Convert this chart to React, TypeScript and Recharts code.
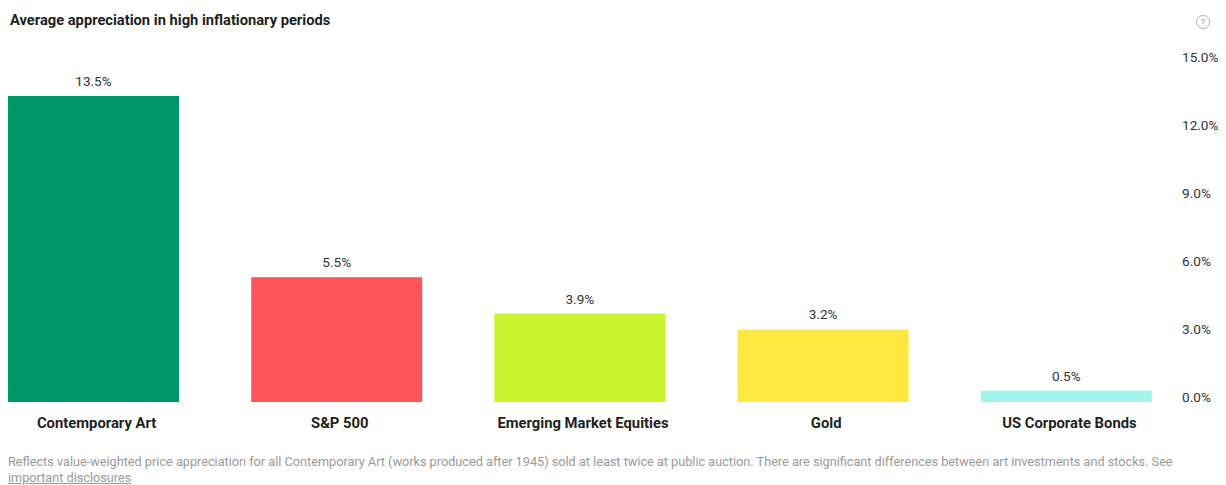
import React from 'react';
import { BarChart, Bar, XAxis, YAxis, Cell, LabelList } from 'recharts';

const categories = ['Contemporary Art', 'S&P 500', 'Emerging Market Equities', 'Gold', 'US Corporate Bonds'];
const values = [13.5, 5.5, 3.9, 3.2, 0.5];
const colors = ['#00966a', '#ff535a', '#c9f22f', '#ffe940', '#9ff5ec'];
const yTicks = [0, 3, 6, 9, 12, 15];

const data = categories.map((name, i) => ({ name, value: values[i] }));

const FONT = 'Roboto, "Noto Sans", sans-serif';

const XTick = (props: any) => {
  const { x, y, payload } = props;
  return (
    <text x={x + 3} y={y + 18} textAnchor="middle" fontFamily={FONT} fontSize={14.8} fontWeight={700} fill="#1f1f1f">
      {payload.value}
    </text>
  );
};

const YTick = (props: any) => {
  const { x, y, payload } = props;
  return (
    <text x={x + 14} y={y} textAnchor="start" fontFamily={FONT} fontSize={13.6} fill="#333">
      {payload.value.toFixed(1)}%
    </text>
  );
};

const ValueLabel = (props: any) => {
  const { x, y, width, value } = props;
  return (
    <text x={x + width / 2} y={y - 10} textAnchor="middle" fontFamily={FONT} fontSize={13.6} fill="#333">
      {Number(value).toFixed(1)}%
    </text>
  );
};

export default function App() {
  return (
    <div
      style={{
        position: 'relative',
        width: 1226,
        height: 485,
        margin: '-8px 0 0 -8px',
        background: '#fff',
        fontFamily: FONT,
        overflow: 'hidden',
      }}
    >
      <div style={{ position: 'absolute', left: 0, top: 0, width: 1218, height: 1, background: '#8c8c8c' }} />
      <div
        style={{
          position: 'absolute',
          left: 10,
          top: 11,
          fontSize: 14.7,
          fontWeight: 700,
          color: '#1f1f1f',
          whiteSpace: 'nowrap',
        }}
      >
        Average appreciation in high inflationary periods
      </div>
      <svg style={{ position: 'absolute', left: 1195, top: 14 }} width={16} height={16}>
        <circle cx={8} cy={8} r={6.5} fill="none" stroke="#b0b0b0" strokeWidth={1} />
        <text x={8} y={11.5} textAnchor="middle" fontSize={9} fontFamily={FONT} fill="#a0a0a0">?</text>
      </svg>
      <div style={{ position: 'absolute', left: 0, top: 0 }}>
        <BarChart width={1226} height={440} data={data} margin={{ top: 62, right: 0, bottom: 8, left: 0 }}>
          <XAxis
            dataKey="name"
            axisLine={false}
            tickLine={false}
            height={30}
            padding={{ left: -28, right: -28 }}
            tick={<XTick />}
            interval={0}
          />
          <YAxis
            orientation="right"
            domain={[0, 15]}
            ticks={yTicks}
            axisLine={false}
            tickLine={false}
            width={66}
            tick={<YTick />}
            interval={0}
          />
          <Bar dataKey="value" barSize={171} isAnimationActive={false}>
            {data.map((d, i) => (
              <Cell key={d.name} fill={colors[i]} />
            ))}
            <LabelList dataKey="value" content={<ValueLabel />} />
          </Bar>
        </BarChart>
      </div>
      <div
        style={{
          position: 'absolute',
          left: 8,
          top: 454,
          fontSize: 12.7,
          color: '#999',
          lineHeight: '16px',
          width: 1210,
          whiteSpace: 'nowrap',
        }}
      >
        Reflects value-weighted price appreciation for all Contemporary Art (works produced after 1945) sold at least twice at public auction. There are significant differences between art investments and stocks. See
        <br />
        <span style={{ textDecoration: 'underline' }}>important disclosures</span>
      </div>
    </div>
  );
}
